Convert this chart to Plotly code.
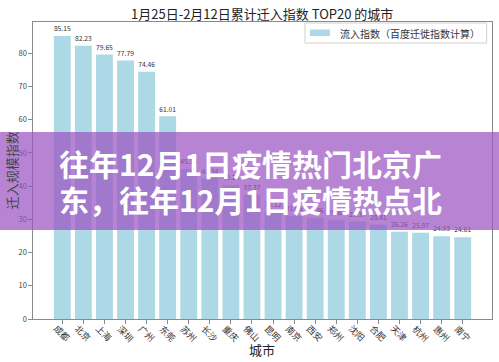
import plotly.graph_objects as go

cities = ["成都", "北京", "上海", "深圳", "广州", "东莞", "苏州", "长沙", "重庆", "佛山",
          "昆明", "南京", "西安", "郑州", "沈阳", "合肥", "天津", "杭州", "惠州", "南宁"]
values = [85.15, 82.23, 79.65, 77.79, 74.46, 61.01, 45.15, 42.34, 40.26, 37.37,
          32.12, 31.06, 30.46, 29.86, 29.37, 28.41, 26.26, 25.97, 24.93, 24.61]
yticks = [0, 10, 20, 30, 40, 50, 60, 70, 80]

title_text = "1月25日-2月12日累计迁入指数 TOP20 的城市"
legend_text = "流入指数（百度迁徙指数计算）"
xlabel = "城市"
ylabel = "迁入规模指数"
banner_lines = ["往年12月1日疫情热门北京广", "东，往年12月1日疫情热点北"]

FONT = "Noto Sans CJK SC"

W, H = 499, 362
L, R, T, B = 32.7, 6.7, 22, 43
pw = W - L - R
ph = H - T - B


def px(x):
    return (x - L) / pw


def py(y):
    return (H - B - y) / ph


fig = go.Figure()
fig.add_trace(go.Bar(
    x=list(range(len(cities))), y=values, width=0.8,
    marker=dict(color="#add8e6", line=dict(width=0)),
    text=[f"{v:.2f}" for v in values], textposition="outside",
    textfont=dict(size=7.5, color="#333333", family=FONT),
    cliponaxis=False, showlegend=False, hoverinfo="skip",
))

axis_common = dict(showgrid=False, zeroline=False, showline=True, linecolor="#8a8a8a",
                   linewidth=1.3, mirror=True, ticks="outside", ticklen=3.5,
                   tickcolor="#8a8a8a", automargin=False)

fig.update_xaxes(range=[-1.39, 20.39], tickmode="array",
                 tickvals=list(range(len(cities))), ticktext=[""] * len(cities),
                 **axis_common)
fig.update_yaxes(range=[0, 89.4], tickmode="array", tickvals=yticks,
                 ticktext=[str(t) for t in yticks],
                 tickfont=dict(size=7.5, family=FONT, color="#444444"), **axis_common)

shapes = []
annotations = []

# rotated category labels, centred under their ticks
for i, c in enumerate(cities):
    annotations.append(dict(text=c, xref="x", yref="paper", x=i, y=py(333),
                            xanchor="center", yanchor="middle", showarrow=False,
                            textangle=45,
                            font=dict(size=9, family=FONT, color="#333333")))

# legend box
shapes.append(dict(type="rect", xref="paper", yref="paper",
                   x0=px(305), x1=px(487), y0=py(43), y1=py(23),
                   fillcolor="white", line=dict(color="#d0d0d0", width=1), layer="above"))
shapes.append(dict(type="rect", xref="paper", yref="paper",
                   x0=px(310), x1=px(330), y0=py(36), y1=py(29.5),
                   fillcolor="#add8e6", line=dict(width=0), layer="above"))
annotations.append(dict(text=legend_text, xref="paper", yref="paper", x=px(338), y=py(33),
                        xanchor="left", yanchor="middle", showarrow=False,
                        font=dict(size=10, family=FONT, color="#333333")))

# titles
annotations.append(dict(text=title_text, xref="paper", yref="paper", x=px(262), y=py(13),
                        xanchor="center", yanchor="middle", showarrow=False,
                        font=dict(size=13, family=FONT, color="#222222")))
annotations.append(dict(text=xlabel, xref="paper", yref="paper", x=px(262), y=py(349),
                        xanchor="center", yanchor="middle", showarrow=False,
                        font=dict(size=13, family=FONT, color="#222222")))
annotations.append(dict(text=ylabel, xref="paper", yref="paper", x=px(11), y=py(170),
                        xanchor="center", yanchor="middle", showarrow=False, textangle=-90,
                        font=dict(size=13, family=FONT, color="#444444")))

# banner overlay
shapes.append(dict(type="rect", xref="paper", yref="paper",
                   x0=px(-2), x1=px(W + 2), y0=py(230), y1=py(132),
                   fillcolor="rgba(155,85,195,0.72)", line=dict(width=0), layer="above"))
banner_font = dict(size=30, family=FONT, color="white")
for text, y in zip(banner_lines, [163, 199]):
    annotations.append(dict(text=f"<b>{text}</b>", xref="paper", yref="paper",
                            x=px(57), y=py(y), xanchor="left", yanchor="middle",
                            showarrow=False, font=banner_font))

fig.update_layout(
    width=W, height=H, margin=dict(l=L, r=R, t=T, b=B, pad=0, autoexpand=False),
    paper_bgcolor="white", plot_bgcolor="white",
    shapes=shapes, annotations=annotations, bargap=0.2,
    font=dict(family=FONT),
)

fig.write_html("out.html", config={"displayModeBar": False},
               post_script="document.body.style.margin='0';"
                           "document.body.style.overflow='hidden';")
